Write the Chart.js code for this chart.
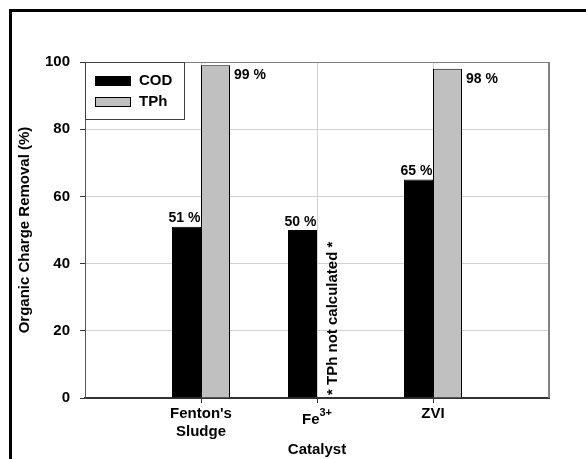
<!DOCTYPE html>
<html>
<head>
<meta charset="utf-8">
<script src="https://cdn.jsdelivr.net/npm/chart.js@4/dist/chart.umd.min.js"></script>
<style>
  html, body { margin: 0; padding: 0; background: #fff; }
  #wrap { position: relative; width: 586px; height: 459px; }
  #frame { position: absolute; left: 9px; top: 9px; right: -10px; bottom: -10px;
           border-left: 3px solid #000; border-top: 3px solid #000; pointer-events: none; }
  canvas { position: absolute; left: 0; top: 0; }
</style>
</head>
<body>
<div id="wrap">
  <canvas id="chart" width="586" height="459"></canvas>
  <div id="frame"></div>
</div>
<script>
// catalysts sit at x = 1, 2, 3 on a 0..4 axis
var categories = ["Fenton's Sludge", "Fe3+", "ZVI"];
var codValues = [51, 50, 65];
var tphValues = [99, null, 98];
var yTicks = [0, 20, 40, 60, 80, 100];

var FONT = '"Liberation Sans", Arial, Helvetica, sans-serif';

function toPoints(values) {
    return values.map(function (v, i) { return { x: i + 1, y: v }; });
}

// value labels, legend, Fe3+ tick and the note drawn on top of the plot
var overlay = {
    id: 'overlay',
    afterDraw: function (chart) {
        var ctx = chart.ctx;
        var area = chart.chartArea;
        var xs = chart.scales.x;
        ctx.save();

        // plot frame: grey top/right
        ctx.strokeStyle = '#808080';
        ctx.lineWidth = 1;
        ctx.beginPath();
        ctx.moveTo(area.left, area.top + 0.5);
        ctx.lineTo(area.right, area.top + 0.5);
        ctx.stroke();
        ctx.lineWidth = 2;
        ctx.beginPath();
        ctx.moveTo(area.right, area.top);
        ctx.lineTo(area.right, area.bottom);
        ctx.stroke();

        // small tick marks under each catalyst
        ctx.strokeStyle = '#333';
        ctx.lineWidth = 1;
        categories.forEach(function (c, i) {
            var tx = Math.round(xs.getPixelForValue(i + 1)) + 0.5;
            ctx.beginPath();
            ctx.moveTo(tx, area.bottom);
            ctx.lineTo(tx, area.bottom + 5);
            ctx.stroke();
        });

        // value labels
        ctx.fillStyle = '#000';
        ctx.font = 'bold 14px ' + FONT;
        var cod = chart.getDatasetMeta(0).data;
        cod.forEach(function (bar, i) {
            if (codValues[i] == null) return;
            ctx.textAlign = 'center';
            ctx.textBaseline = 'bottom';
            ctx.fillText(codValues[i] + ' %', bar.x - 2, bar.y - 1);
        });
        var tph = chart.getDatasetMeta(1).data;
        tph.forEach(function (bar, i) {
            if (tphValues[i] == null) return;
            ctx.textAlign = 'left';
            ctx.textBaseline = 'top';
            ctx.fillText(tphValues[i] + ' %', bar.x + bar.width / 2 + 4, bar.y + 3);
        });

        // note for the missing TPh bar
        var feX = xs.getPixelForValue(2);
        ctx.save();
        ctx.translate(feX + 16, area.bottom - 3);
        ctx.rotate(-Math.PI / 2);
        ctx.font = 'bold 15px ' + FONT;
        ctx.textAlign = 'left';
        ctx.textBaseline = 'middle';
        ctx.fillText('* TPh not calculated *', 0, 0);
        ctx.restore();

        // Fe3+ tick label with superscript
        ctx.font = 'bold 15px ' + FONT;
        var wFe = ctx.measureText('Fe').width;
        ctx.font = 'bold 11px ' + FONT;
        var wSup = ctx.measureText('3+').width;
        var x0 = feX - (wFe + wSup) / 2;
        ctx.textAlign = 'left';
        ctx.textBaseline = 'alphabetic';
        ctx.font = 'bold 15px ' + FONT;
        ctx.fillText('Fe', x0, area.bottom + 26);
        ctx.font = 'bold 11px ' + FONT;
        ctx.fillText('3+', x0 + wFe, area.bottom + 18);

        // legend box
        var lx = area.left, ly = area.top, lw = 99, lh = 57;
        ctx.fillStyle = '#fff';
        ctx.fillRect(lx, ly, lw, lh);
        ctx.strokeStyle = '#404040';
        ctx.lineWidth = 1;
        ctx.strokeRect(lx + 0.5, ly + 0.5, lw, lh);
        ctx.font = 'bold 15px ' + FONT;
        ctx.textBaseline = 'middle';
        chart.data.datasets.forEach(function (ds, i) {
            var sy = ly + 14 + i * 21;
            ctx.fillStyle = ds.backgroundColor;
            ctx.fillRect(lx + 10, sy, 36, 10);
            ctx.strokeStyle = '#000';
            ctx.strokeRect(lx + 10.5, sy + 0.5, 35, 9);
            ctx.fillStyle = '#000';
            ctx.fillText(ds.label, lx + 54, sy + 5);
        });
        ctx.restore();
    }
};

new Chart(document.getElementById('chart'), {
    type: 'bar',
    data: {
        datasets: [
            { label: 'COD', data: toPoints(codValues), backgroundColor: '#000000',
              borderColor: '#000000', borderWidth: 1 },
            { label: 'TPh', data: toPoints(tphValues), backgroundColor: '#c0c0c0',
              borderColor: '#000000', borderWidth: 1 }
        ]
    },
    options: {
        responsive: false,
        animation: false,
        layout: { padding: { left: 0, top: 62, right: 37, bottom: 0 } },
        datasets: { bar: { categoryPercentage: 0.5, barPercentage: 1 } },
        plugins: { legend: { display: false }, tooltip: { enabled: false } },
        scales: {
            x: {
                type: 'linear',
                min: 0, max: 4,
                offset: false,
                afterFit: function (s) { s.height = 61; },
                grid: { offset: false, color: '#d0d0d0', drawTicks: false },
                border: { color: '#333', width: 2 },
                ticks: {
                    stepSize: 1,
                    autoSkip: false,
                    maxRotation: 0,
                    padding: 7,
                    color: '#000',
                    font: { family: FONT, size: 15, weight: 'bold' },
                    callback: function (v) {
                        var name = categories[v - 1];
                        if (!name || name === 'Fe3+') return '';
                        return name.split(' ');
                    }
                },
                title: {
                    display: true, text: 'Catalyst', color: '#000',
                    font: { family: FONT, size: 15, weight: 'bold' },
                    padding: { top: 0, bottom: 0 }
                }
            },
            y: {
                min: 0, max: 100,
                afterFit: function (s) { s.width = 85; },
                afterBuildTicks: function (s) {
                    s.ticks = yTicks.map(function (v) { return { value: v }; });
                },
                grid: { color: '#d0d0d0', tickLength: 5, tickColor: '#333' },
                border: { color: '#555', width: 1 },
                ticks: {
                    padding: 10,
                    color: '#000',
                    font: { family: FONT, size: 15, weight: 'bold' }
                },
                title: {
                    display: true, text: 'Organic Charge Removal (%)', color: '#000',
                    font: { family: FONT, size: 15, weight: 'bold' },
                    padding: { top: 16, bottom: 0 }
                }
            }
        }
    },
    plugins: [overlay]
});
</script>
</body>
</html>
